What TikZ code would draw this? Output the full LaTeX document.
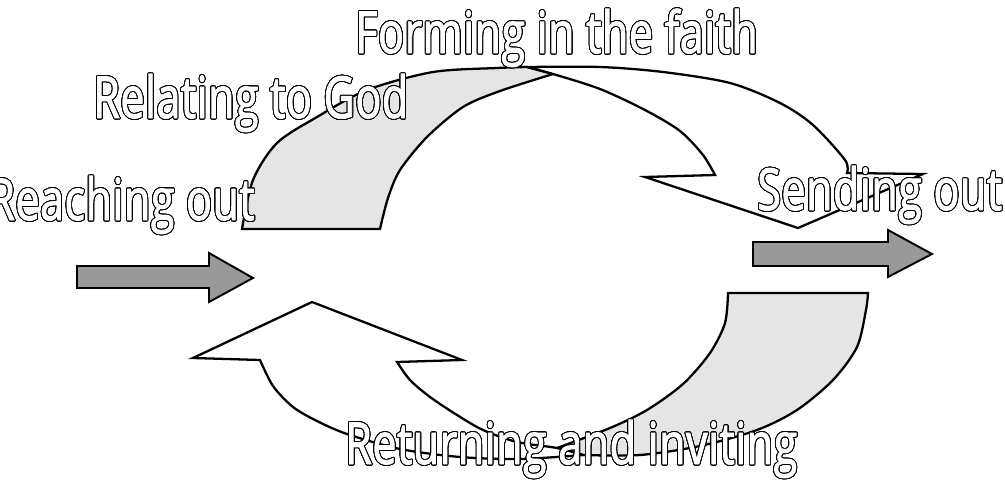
\documentclass[tikz,border=0pt]{standalone}
\usepackage{fontspec}
\usepackage{tikz}
\usepackage{contour}
\newfontfamily\artfont[FakeStretch=0.74,FakeBold=1.6,LetterSpace=1]{Open Sans}
\contourlength{0.5pt}
\contournumber{32}
\newcommand{\hollow}[1]{\contour{black}{\textcolor{white}{#1}}}

\begin{document}
\begin{tikzpicture}[x=0.02cm,y=-0.02cm,
    band/.style={draw=black,fill=black!10,line width=1.3pt},
    blank/.style={draw=black,fill=white,line width=1.3pt},
    block/.style={draw=black,fill=black!40,line width=1.1pt},
    word/.style={inner sep=0pt,font=\artfont\fontsize{33}{36}\selectfont}]
  \useasboundingbox (0,0) rectangle (1005,480);
  % upper turning arrow
  \draw[band] (242,229) -- (380,229) -- plot[smooth] coordinates {(380,229) (388,198) (400,170) (427,137) (463,107) (500,91) (553,74)}
    -- (527,67) -- plot[smooth] coordinates {(527,67) (497,68) (433,72) (367,90) (317,117) (277,143) (253,180) (242,229)} -- cycle;
  \draw[blank] (527,67) -- plot[smooth] coordinates {(527,67) (600,67) (663,72) (730,83) (780,103) (813,125) (845,160) (847,173)}
    -- (923,174) -- (798,228) -- (645,177) -- (715,175)
    -- plot[smooth] coordinates {(715,175) (703,155) (680,131) (645,110) (600,89) (553,74) (527,67)} -- cycle;
  % lower turning arrow
  \draw[band] (868,293) -- (728,293) -- plot[smooth] coordinates {(728,293) (725,323) (710,353) (683,384) (647,410) (610,428) (557,448)}
    -- (583,455) -- plot[smooth] coordinates {(583,455) (640,455) (700,446) (757,430) (797,410) (833,380) (857,347) (866,310) (868,293)} -- cycle;
  \draw[blank] (583,455) -- plot[smooth] coordinates {(583,455) (520,459) (460,457) (400,449) (347,434) (317,421) (293,407) (273,386) (260,360)}
    -- (193,358) -- (312,302) -- (462,360) -- (397,362)
    -- plot[smooth] coordinates {(397,362) (410,380) (430,397) (457,415) (483,430) (517,442) (557,448) (583,455)} -- cycle;
  % straight arrows
  \draw[block] (77,266) -- (209,266) -- (209,253) -- (253,278) -- (209,302) -- (209,288) -- (77,288) -- cycle;
  \draw[block] (753,242) -- (888,242) -- (888,230) -- (932,254) -- (888,277) -- (888,266) -- (753,266) -- cycle;
  % labels
  \node[word,anchor=base west] (forming) at (355,53) {\hollow{Forming in the faith}};
  \node[word,anchor=base west] (relating) at (93,118) {\hollow{Relating to God}};
  \node[word,anchor=base east] (reaching) at (255,220) {\hollow{Reaching out}};
  \node[word,anchor=base west] (sending) at (757,210) {\hollow{Sending out}};
  \node[word,anchor=base west] (returning) at (345,464) {\hollow{Returning and inviting}};
\end{tikzpicture}
\end{document}
